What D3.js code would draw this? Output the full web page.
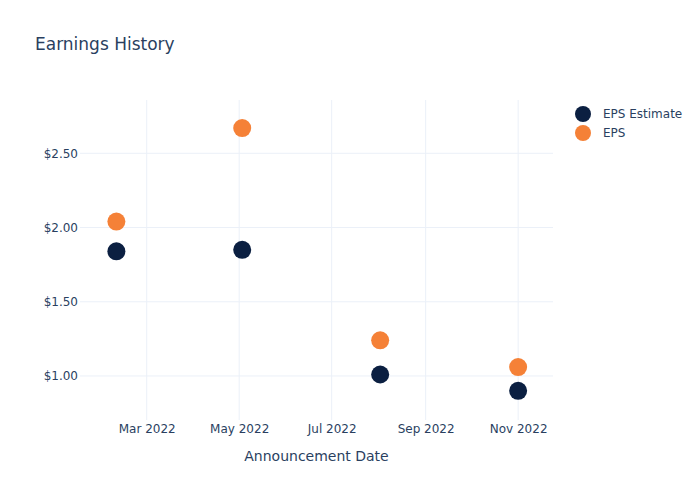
<!DOCTYPE html>
<html><head><meta charset="utf-8">
<script src="https://cdn.jsdelivr.net/npm/d3@7"></script>
<style>body{margin:0;background:#fff}svg{font-family:"DejaVu Sans",Verdana,sans-serif}</style>
</head><body><svg id="c" width="700" height="500"></svg>
<script>
const dates = ["2022-02-09","2022-05-03","2022-08-02","2022-11-01"];
const epsEstimate = [1.84, 1.85, 1.01, 0.90];
const eps = [2.04, 2.67, 1.24, 1.06];
const yTicks = [1.0, 1.5, 2.0, 2.5];
const xTicks = ["2022-03-01","2022-05-01","2022-07-01","2022-09-01","2022-11-01"];
const seriesNames = ["EPS Estimate","EPS"];
const colors = ["#0b1f41","#f58137"];

const svg = d3.select("#c");
const W=700,H=500, m={l:80,r:147,t:100,b:80};
const parse = d3.utcParse("%Y-%m-%d");
const x = d3.scaleUtc().domain([parse("2022-01-16"), parse("2022-11-24")]).range([m.l, W-m.r]);
const y = d3.scaleLinear().domain([0.7035, 2.859]).range([H-m.b, m.t]);
const txt = "#2a3f5f", grid="#ebf0f8";
const ff = "'DejaVu Sans',Verdana,sans-serif";

const g = svg.append("g");
g.selectAll(".gx").data(xTicks).join("line").attr("x1",d=>x(parse(d))).attr("x2",d=>x(parse(d)))
 .attr("y1",m.t).attr("y2",H-m.b).attr("stroke",grid).attr("stroke-width",1);
g.selectAll(".gy").data(yTicks).join("line").attr("y1",d=>y(d)).attr("y2",d=>y(d))
 .attr("x1",m.l).attr("x2",W-m.r).attr("stroke",grid).attr("stroke-width",1);

const xa = svg.append("g").attr("transform",`translate(0,${H-m.b})`)
 .call(d3.axisBottom(x).tickValues(xTicks.map(parse)).tickFormat(d3.utcFormat("%b %Y")).tickSize(0).tickPadding(4));
xa.select(".domain").remove();
xa.selectAll("text").attr("fill",txt).style("font-size","12px").style("font-family",ff);

const ya = svg.append("g").attr("transform",`translate(${m.l},0)`)
 .call(d3.axisLeft(y).tickValues(yTicks).tickFormat(d=>"$"+d3.format(".2f")(d)).tickSize(0).tickPadding(2));
ya.select(".domain").remove();
ya.selectAll("text").attr("fill",txt).style("font-size","12px").style("font-family",ff);

[epsEstimate, eps].forEach((vals,i)=>{
  svg.append("g").selectAll("circle").data(vals).join("circle")
   .attr("cx",(d,j)=>x(parse(dates[j]))).attr("cy",d=>y(d)).attr("r",9).attr("fill",colors[i]);
});

svg.append("text").attr("x",35).attr("y",50).attr("fill",txt).style("font-size","17px").text("Earnings History");
svg.append("text").attr("x",(m.l+W-m.r)/2).attr("y",461).attr("text-anchor","middle").attr("fill",txt).style("font-size","14px").text("Announcement Date");

const lg = svg.append("g");
seriesNames.forEach((n,i)=>{
  lg.append("circle").attr("cx",583).attr("cy",114+i*19).attr("r",8).attr("fill",colors[i]);
  lg.append("text").attr("x",603).attr("y",114+i*19+4).attr("fill",txt).style("font-size","12px").text(n);
});
</script></body></html>
